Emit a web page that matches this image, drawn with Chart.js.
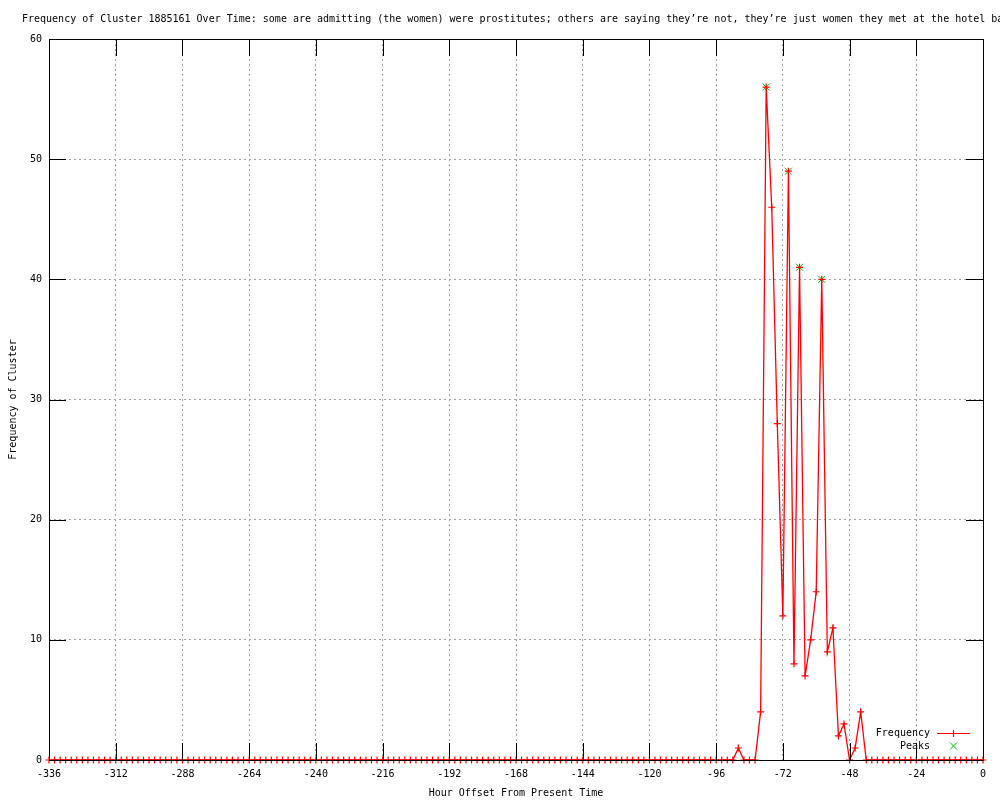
<!DOCTYPE html>
<html>
<head>
<meta charset="utf-8">
<script src="https://cdn.jsdelivr.net/npm/chart.js@4"></script>
<style>
  html, body { margin: 0; padding: 0; background: #fff; }
  #wrap { width: 1000px; height: 800px; }
</style>
</head>
<body>
<div id="wrap"><canvas id="chart" width="1000" height="800"></canvas></div>
<script>
const titleText = 'Frequency of Cluster 1885161 Over Time: some are admitting (the women) were prostitutes; others are saying they\u2019re not, they\u2019re just women they met at the hotel bar';

const hours = [
    -336, -334, -332, -330, -328, -326, -324, -322, -320, -318, -316, -314,
    -312, -310, -308, -306, -304, -302, -300, -298, -296, -294, -292, -290,
    -288, -286, -284, -282, -280, -278, -276, -274, -272, -270, -268, -266,
    -264, -262, -260, -258, -256, -254, -252, -250, -248, -246, -244, -242,
    -240, -238, -236, -234, -232, -230, -228, -226, -224, -222, -220, -218,
    -216, -214, -212, -210, -208, -206, -204, -202, -200, -198, -196, -194,
    -192, -190, -188, -186, -184, -182, -180, -178, -176, -174, -172, -170,
    -168, -166, -164, -162, -160, -158, -156, -154, -152, -150, -148, -146,
    -144, -142, -140, -138, -136, -134, -132, -130, -128, -126, -124, -122,
    -120, -118, -116, -114, -112, -110, -108, -106, -104, -102, -100, -98,
    -96, -94, -92, -90, -88, -86, -84, -82, -80, -78, -76, -74,
    -72, -70, -68, -66, -64, -62, -60, -58, -56, -54, -52, -50,
    -48, -46, -44, -42, -40, -38, -36, -34, -32, -30, -28, -26,
    -24, -22, -20, -18, -16, -14, -12, -10, -8, -6, -4, -2,
    0
];

const frequency = [
    0, 0, 0, 0, 0, 0, 0, 0, 0, 0, 0, 0,
    0, 0, 0, 0, 0, 0, 0, 0, 0, 0, 0, 0,
    0, 0, 0, 0, 0, 0, 0, 0, 0, 0, 0, 0,
    0, 0, 0, 0, 0, 0, 0, 0, 0, 0, 0, 0,
    0, 0, 0, 0, 0, 0, 0, 0, 0, 0, 0, 0,
    0, 0, 0, 0, 0, 0, 0, 0, 0, 0, 0, 0,
    0, 0, 0, 0, 0, 0, 0, 0, 0, 0, 0, 0,
    0, 0, 0, 0, 0, 0, 0, 0, 0, 0, 0, 0,
    0, 0, 0, 0, 0, 0, 0, 0, 0, 0, 0, 0,
    0, 0, 0, 0, 0, 0, 0, 0, 0, 0, 0, 0,
    0, 0, 0, 0, 1, 0, 0, 0, 4, 56, 46, 28,
    12, 49, 8, 41, 7, 10, 14, 40, 9, 11, 2, 3,
    0, 1, 4, 0, 0, 0, 0, 0, 0, 0, 0, 0,
    0, 0, 0, 0, 0, 0, 0, 0, 0, 0, 0, 0,
    0
];

const peakHours = [-78, -70, -66, -58];
const peakValues = [56, 49, 41, 40];

const xTicksStep = 24;
const yTicksStep = 10;

const RED = '#ff0000';
const GREEN = '#00c000';
const FONT = "'DejaVu Sans Mono', monospace";

Chart.defaults.font.family = FONT;
Chart.defaults.font.size = 10;
Chart.defaults.color = '#000';

// gnuplot style box, inward tics, title and key
const gnuplotFrame = {
    id: 'gnuplotFrame',
    afterDatasetsDraw(chart) {
        const { ctx, chartArea: a, scales } = chart;
        const ticLen = 17;
        ctx.save();
        ctx.strokeStyle = '#000';
        ctx.lineWidth = 1;
        ctx.beginPath();
        ctx.rect(a.left + 0.5, a.top + 0.5, a.right - a.left, a.bottom - a.top);
        scales.x.ticks.forEach(t => {
            const px = Math.round(scales.x.getPixelForValue(t.value)) + 0.5;
            ctx.moveTo(px, a.bottom);
            ctx.lineTo(px, a.bottom - ticLen);
            ctx.moveTo(px, a.top);
            ctx.lineTo(px, a.top + ticLen);
        });
        scales.y.ticks.forEach(t => {
            const py = Math.round(scales.y.getPixelForValue(t.value)) + 0.5;
            ctx.moveTo(a.left, py);
            ctx.lineTo(a.left + ticLen, py);
            ctx.moveTo(a.right, py);
            ctx.lineTo(a.right - ticLen, py);
        });
        ctx.stroke();

        // key
        ctx.font = '10px ' + FONT;
        ctx.fillStyle = '#000';
        ctx.textAlign = 'right';
        ctx.textBaseline = 'middle';
        ctx.fillText('Frequency', 930, 733);
        ctx.fillText('Peaks', 930, 746);
        ctx.strokeStyle = RED;
        ctx.lineWidth = 1.2;
        ctx.beginPath();
        ctx.moveTo(937, 733.5);
        ctx.lineTo(970, 733.5);
        ctx.moveTo(953.5, 730);
        ctx.lineTo(953.5, 737);
        ctx.stroke();
        ctx.strokeStyle = GREEN;
        ctx.lineWidth = 1;
        ctx.beginPath();
        ctx.moveTo(950, 742.5);
        ctx.lineTo(957, 749.5);
        ctx.moveTo(957, 742.5);
        ctx.lineTo(950, 749.5);
        ctx.stroke();

        // title, left aligned and running off the right edge like the original
        ctx.textAlign = 'left';
        ctx.fillText(titleText, 22, 19);
        ctx.restore();
    }
};

const ctx = document.getElementById('chart');
new Chart(ctx, {
    type: 'line',
    data: {
        datasets: [{
            label: 'Frequency',
            data: hours.map((h, i) => ({ x: h, y: frequency[i] })),
            borderColor: RED,
            backgroundColor: RED,
            borderWidth: 1.3,
            pointStyle: 'cross',
            pointRadius: 3.5,
            pointBorderWidth: 1.2,
            pointBorderColor: RED,
            tension: 0,
            fill: false,
            clip: false
        }, {
            label: 'Peaks',
            data: peakHours.map((h, i) => ({ x: h, y: peakValues[i] })),
            showLine: false,
            borderColor: GREEN,
            backgroundColor: GREEN,
            pointStyle: 'crossRot',
            pointRadius: 5,
            pointBorderWidth: 1,
            pointBorderColor: GREEN,
            clip: false
        }]
    },
    options: {
        responsive: false,
        devicePixelRatio: 1,
        animation: false,
        layout: {
            padding: { top: 39, right: 17, bottom: 0, left: 0 }
        },
        plugins: {
            legend: { display: false },
            title: { display: false },
            tooltip: { enabled: false }
        },
        scales: {
            x: {
                type: 'linear',
                min: -336,
                max: 0,
                ticks: {
                    stepSize: xTicksStep,
                    padding: 8,
                    maxRotation: 0,
                    autoSkip: false
                },
                grid: {
                    color: '#a0a0a0',
                    lineWidth: 1,
                    drawTicks: false
                },
                border: { display: false, dash: [2, 3] },
                title: {
                    display: true,
                    text: 'Hour Offset From Present Time',
                    padding: { top: 0, bottom: 1 }
                },
                afterFit(scale) { scale.height = 40; }
            },
            y: {
                min: 0,
                max: 60,
                ticks: {
                    stepSize: yTicksStep,
                    padding: 7
                },
                grid: {
                    color: '#a0a0a0',
                    lineWidth: 1,
                    drawTicks: false
                },
                border: { display: false, dash: [2, 3] },
                title: {
                    display: true,
                    text: 'Frequency of Cluster',
                    padding: { top: 7, bottom: 0 }
                },
                afterFit(scale) { scale.width = 49; }
            }
        }
    },
    plugins: [gnuplotFrame]
});
</script>
</body>
</html>
